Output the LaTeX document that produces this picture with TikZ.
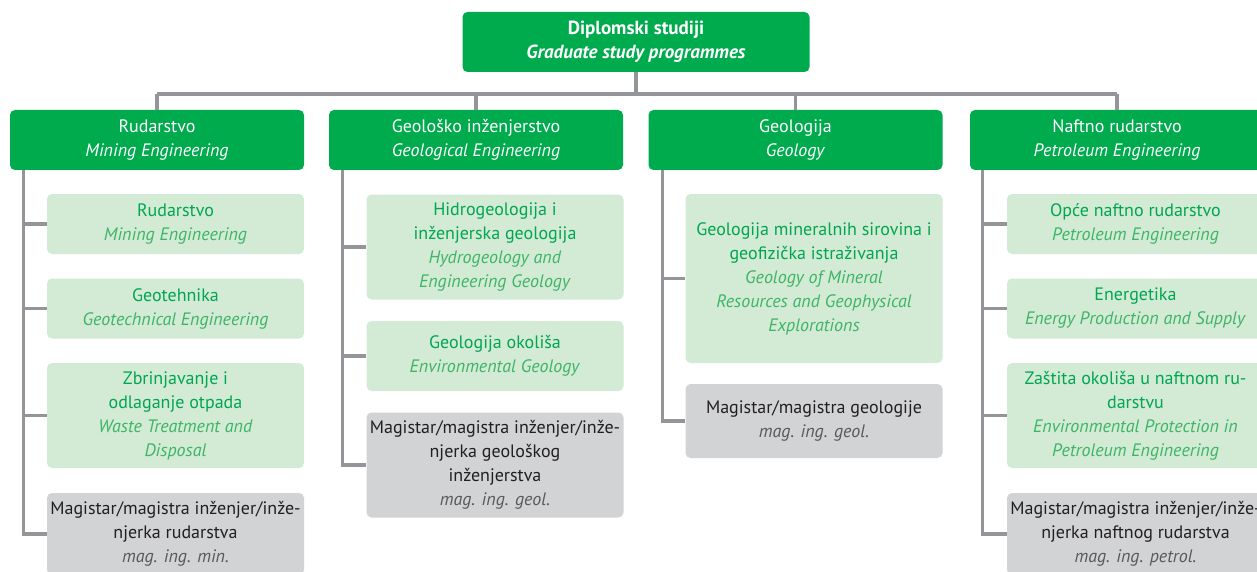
\documentclass[tikz,border=0pt]{standalone}
\usepackage{fontspec}
\setmainfont{PT Sans}
\usepackage{tikz}

\definecolor{darkgrn}{HTML}{00AB4E}
\definecolor{lightgrn}{HTML}{D3EAD5}
\definecolor{grntext}{HTML}{00A650}
\definecolor{grnital}{HTML}{3DB567}
\definecolor{boxgray}{HTML}{D1D3D4}
\definecolor{graytext}{HTML}{231F20}
\definecolor{grayital}{HTML}{58595B}
\definecolor{linegray}{HTML}{939598}

\begin{document}
\begin{tikzpicture}[x=1pt,y=-1pt,
  every node/.style={inner sep=0pt,align=center,font=\fontsize{18}{24}\selectfont,
    execute at begin node=\rule{0pt}{19pt}},
  mainbox/.style={fill=darkgrn,text=white,rounded corners=5pt,minimum width=294pt,minimum height=60pt},
  subbox/.style={fill=lightgrn,text=grntext,rounded corners=5pt,minimum width=257pt},
  degbox/.style={fill=boxgray,text=graytext,rounded corners=5pt,minimum width=257pt},
  link/.style={draw=linegray,line width=3.2pt}]
\clip (0,0) rectangle (1257,572);

\node[mainbox,minimum width=347pt,font=\fontsize{19}{24}\selectfont] (top) at (636,42) {\textbf{Diplomski studiji}\\\textbf{\textit{Graduate study programmes}}};

\node[mainbox] (rud) at (157,140) {Rudarstvo\\\textit{Mining Engineering}};
\node[mainbox] (geoinz) at (476,140) {Geološko inženjerstvo\\\textit{Geological Engineering}};
\node[mainbox] (geol) at (795.5,140) {Geologija\\\textit{Geology}};
\node[mainbox] (naft) at (1117,140) {Naftno rudarstvo\\\textit{Petroleum Engineering}};

\coordinate (bar) at (0,94);
\draw[link] (top.south) -- (top.south |- bar);
\draw[link] (rud.north |- bar) -- (naft.north |- bar);
\foreach \c in {rud,geoinz,geol,naft}
  \draw[link] (\c.north) -- (\c.north |- bar);

\node[subbox,minimum height=60pt] (rud1) at (175.5,224) {Rudarstvo\\\textcolor{grnital}{\textit{Mining Engineering}}};
\node[subbox,minimum height=60pt] (rud2) at (175.5,308.5) {Geotehnika\\\textcolor{grnital}{\textit{Geotechnical Engineering}}};
\node[subbox,minimum height=105pt] (rud3) at (175.5,415.5) {Zbrinjavanje i\\odlaganje otpada\\\textcolor{grnital}{\textit{Waste Treatment and}}\\\textcolor{grnital}{\textit{Disposal}}};
\node[degbox,minimum height=82pt] (rud4) at (175.5,534) {Magistar/magistra inženjer/inže-\\njerka rudarstva\\\textcolor{grayital}{\textit{mag. ing. min.}}};

\node[subbox,minimum height=105pt] (geoinz1) at (495,247) {Hidrogeologija i\\inženjerska geologija\\\textcolor{grnital}{\textit{Hydrogeology and}}\\\textcolor{grnital}{\textit{Engineering Geology}}};
\node[subbox,minimum height=70pt] (geoinz2) at (495,356) {Geologija okoliša\\\textcolor{grnital}{\textit{Environmental Geology}}};
\node[degbox,minimum height=105pt] (geoinz3) at (495,465) {Magistar/magistra inženjer/inže-\\njerka geološkog\\inženjerstva\\\textcolor{grayital}{\textit{mag. ing. geol.}}};

\node[subbox,minimum height=169pt] (geol1) at (814,278.5) {Geologija mineralnih sirovina i\\geofizička istraživanja\\\textcolor{grnital}{\textit{Geology of Mineral}}\\\textcolor{grnital}{\textit{Resources and Geophysical}}\\\textcolor{grnital}{\textit{Explorations}}};
\node[degbox,minimum height=74pt] (geol2) at (814,421) {Magistar/magistra geologije\\\textcolor{grayital}{\textit{mag. ing. geol.}}};

\node[subbox,minimum height=60pt] (naft1) at (1135.5,224) {Opće naftno rudarstvo\\\textcolor{grnital}{\textit{Petroleum Engineering}}};
\node[subbox,minimum height=60pt] (naft2) at (1135.5,308.5) {Energetika\\\textcolor{grnital}{\textit{Energy Production and Supply}}};
\node[subbox,minimum height=105pt] (naft3) at (1135.5,415.5) {Zaštita okoliša u naftnom ru-\\darstvu\\\textcolor{grnital}{\textit{Environmental Protection in}}\\\textcolor{grnital}{\textit{Petroleum Engineering}}};
\node[degbox,minimum height=82pt] (naft4) at (1135.5,534) {Magistar/magistra inženjer/inže-\\njerka naftnog rudarstva\\\textcolor{grayital}{\textit{mag. ing. petrol.}}};

\foreach \s in {rud1,rud2,rud3,rud4}
  \draw[link] ([xshift=14pt]rud.south west) |- (\s.west);
\foreach \s in {geoinz1,geoinz2,geoinz3}
  \draw[link] ([xshift=14pt]geoinz.south west) |- (\s.west);
\foreach \s in {geol1,geol2}
  \draw[link] ([xshift=14pt]geol.south west) |- (\s.west);
\foreach \s in {naft1,naft2,naft3,naft4}
  \draw[link] ([xshift=13pt]naft.south west) |- (\s.west);
\end{tikzpicture}
\end{document}
